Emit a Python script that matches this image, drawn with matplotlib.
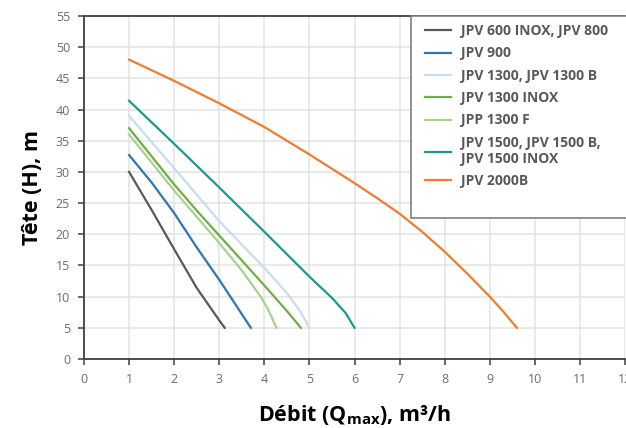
import matplotlib
matplotlib.use("Agg")
import matplotlib.pyplot as plt
from matplotlib.patches import Rectangle

plt.rcParams['font.family'] = ['Open Sans', 'DejaVu Sans']
plt.rcParams['mathtext.fontset'] = 'custom'
plt.rcParams['mathtext.bf'] = 'Open Sans:bold'

# -------------------- data --------------------
labels = ["JPV 600 INOX, JPV 800", "JPV 900", "JPV 1300, JPV 1300 B",
          "JPV 1300 INOX", "JPP 1300 F", "JPV 1500, JPV 1500 B,\nJPV 1500 INOX",
          "JPV 2000B"]
colors = ["#595959", "#2e75b6", "#c9dcf2", "#70ad47", "#a9d18e", "#1b9a8c", "#ed7d31"]

q_600 = [1, 1.5, 2, 2.5, 3, 3.12]
h_600 = [30, 23.9, 17.6, 11.4, 6.2, 5]

q_900 = [1, 1.5, 2, 2.5, 3, 3.5, 3.7]
h_900 = [32.7, 28.3, 23.4, 17.9, 12.7, 7.2, 5]

q_1300 = [1, 2, 3, 4, 4.5, 4.8, 5]
h_1300 = [39, 30.6, 22.1, 14.6, 10.6, 7.6, 5]

q_1300i = [1, 1.5, 2, 2.5, 3, 3.5, 4, 4.5, 4.81]
h_1300i = [37, 32.5, 28.0, 23.8, 19.8, 15.8, 11.8, 7.7, 5]

q_1300f = [1, 1.5, 2, 2.5, 3, 3.5, 3.92, 4.08, 4.27]
h_1300f = [36, 31.5, 27.0, 22.8, 18.6, 14.2, 10, 8, 5]

q_1500 = [1, 2, 3, 4, 5, 5.5, 5.8, 6]
h_1500 = [41.4, 34.5, 27.5, 20.4, 13.2, 9.8, 7.4, 5]

q_2000 = [1, 1.5, 2, 2.5, 3, 3.5, 4, 4.5, 5, 5.5, 6, 6.5, 7, 7.5, 8, 8.5, 9, 9.3, 9.6]
h_2000 = [48, 46.3, 44.6, 42.8, 41.0, 39.1, 37.2, 35.0, 32.8, 30.5, 28.2, 25.8,
          23.3, 20.4, 17.2, 13.7, 10.0, 7.6, 5]

series = [(q_600, h_600), (q_900, h_900), (q_1300, h_1300), (q_1300i, h_1300i),
          (q_1300f, h_1300f), (q_1500, h_1500), (q_2000, h_2000)]

# -------------------- figure --------------------
W, H = 626, 428
fig = plt.figure(figsize=(W / 100, H / 100), dpi=100)
ax = fig.add_axes([84 / W, (H - 359) / H, (625 - 84) / W, (359 - 16) / H])

for (q, h), lab, col in zip(series, labels, colors):
    ax.plot(q, h, color=col, lw=1.6, label=lab, solid_joinstyle='round')

ax.set_xlim(0, 12)
ax.set_ylim(0, 55)
ax.set_xticks(range(0, 13))
ax.set_yticks(range(0, 56, 5))
ax.grid(True, color="#e3e3e3", lw=1.1)
ax.set_axisbelow(True)
for s in ["left", "bottom", "top"]:
    ax.spines[s].set_color("#404040")
    ax.spines[s].set_linewidth(1.3)
ax.spines["right"].set_visible(False)
ax.tick_params(direction="out", length=4, width=1.1, color="#404040",
               labelsize=9, labelcolor="#6b6b6b", pad=6)

ax.set_xlabel("Débit (Q$_\\mathbf{max}$), m³/h", fontsize=15.5, fontweight="bold",
              labelpad=12)
ax.set_ylabel("Tête (H), m", fontsize=15.5, fontweight="bold", labelpad=9)

# legend box (runs off the right edge like the source)
fig.patches.append(Rectangle((411 / W, (H - 218) / H), 240 / W, (218 - 16) / H,
                             transform=fig.transFigure, facecolor="white",
                             edgecolor="#7f7f7f", lw=1.2, zorder=5))
leg = fig.legend(loc="upper left", bbox_to_anchor=(414 / W, (H - 13) / H),
                 frameon=False, fontsize=10, handlelength=1.85, handletextpad=0.75,
                 labelspacing=0.6, borderpad=0.3)
leg.set_zorder(6)
for t in leg.get_texts():
    t.set_color("#595959")
    t.set_fontweight("bold")

fig.savefig("out.png", dpi=100)
